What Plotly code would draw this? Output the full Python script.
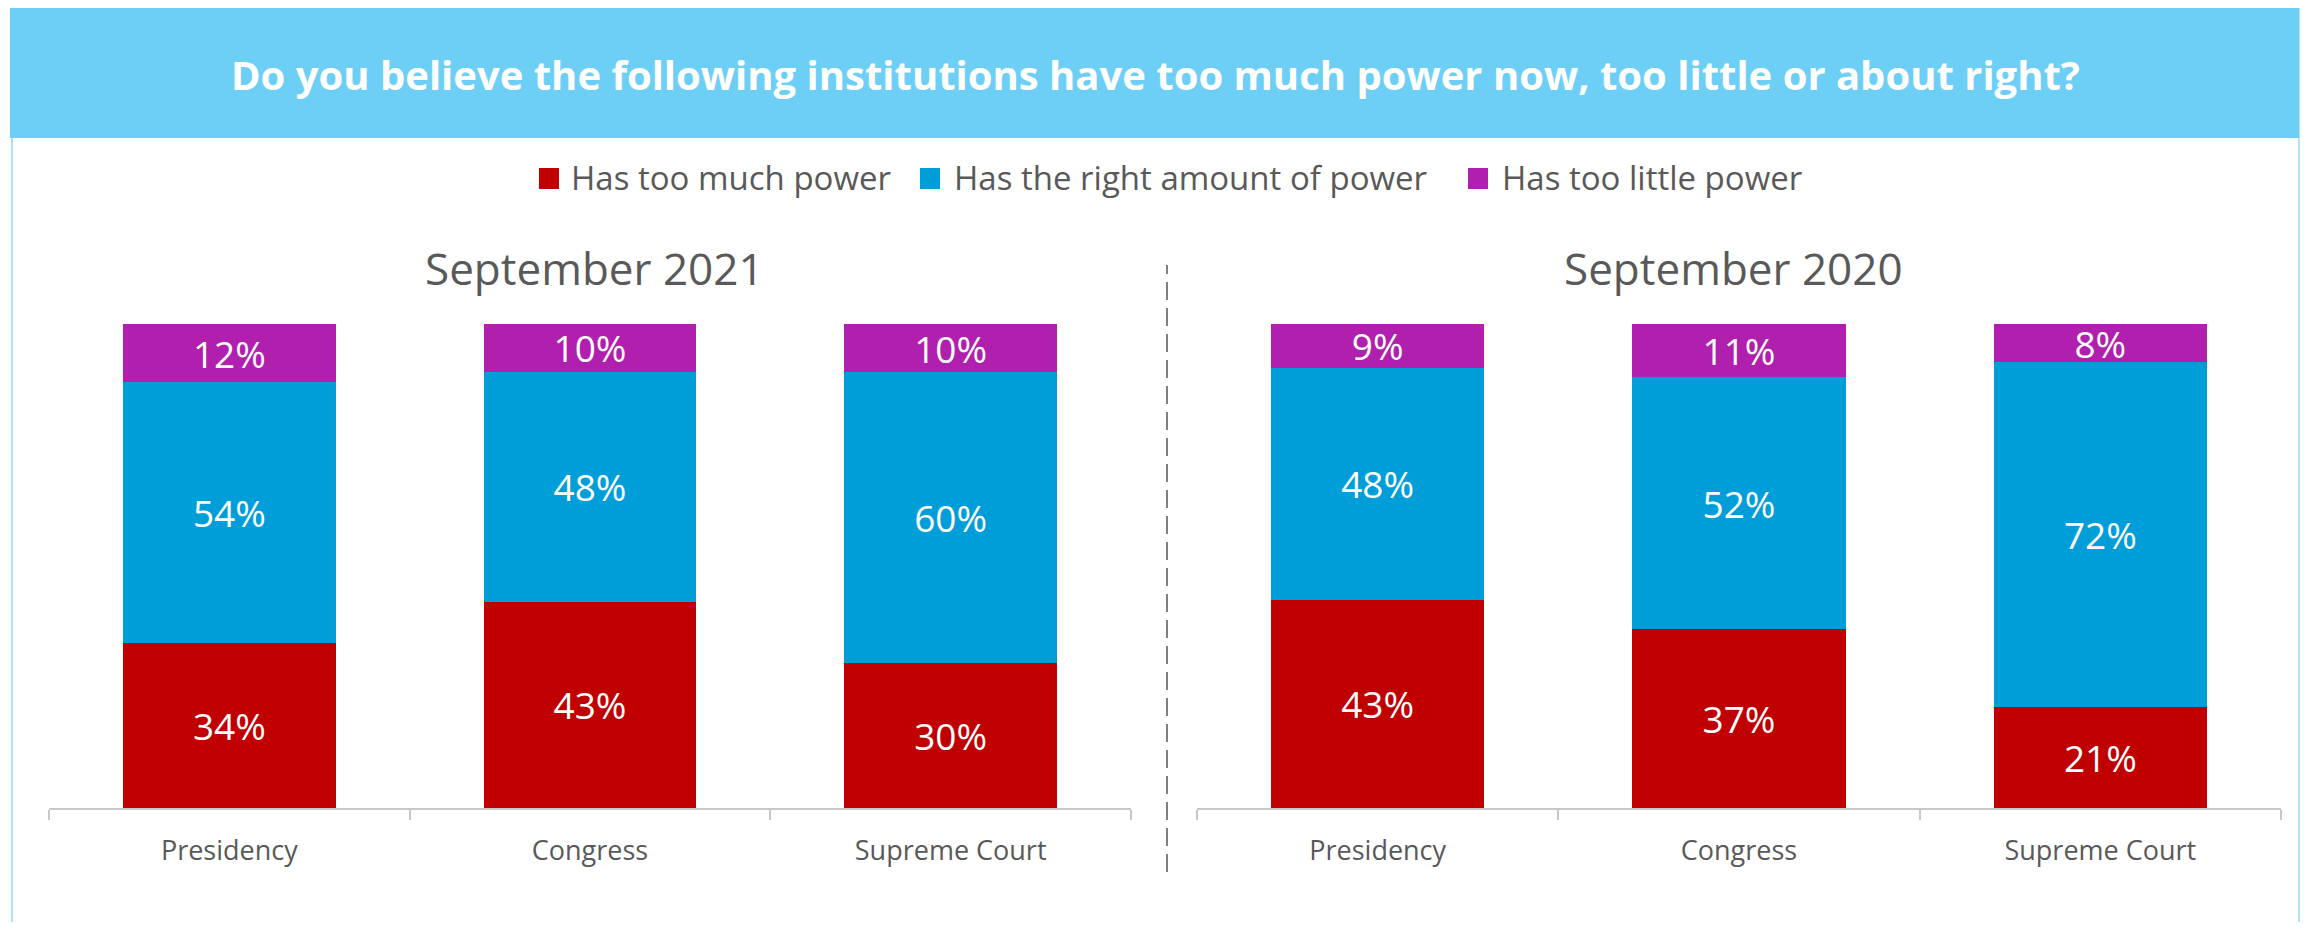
import plotly.graph_objects as go

W, H = 2308, 930
OFF = 8  # body margin of the page
FW, FH = W - 2 * OFF, H - 2 * OFF

title = "Do you believe the following institutions have too much power now, too little or about right?"
categories = ["Presidency", "Congress", "Supreme Court"]
series_names = ["Has too much power", "Has the right amount of power", "Has too little power"]
colors = ["#C00000", "#009ED9", "#B01FAD"]

panel_titles = ["September 2021", "September 2020"]
too_much_2021 = [34, 43, 30]
right_2021 = [54, 48, 60]
too_little_2021 = [12, 10, 10]
too_much_2020 = [43, 37, 21]
right_2020 = [48, 52, 72]
too_little_2020 = [9, 11, 8]

panels = [
    [too_much_2021, right_2021, too_little_2021],
    [too_much_2020, right_2020, too_little_2020],
]

FONT = "Open Sans"
GRAY = "#595959"


def px(x):
    return (x - OFF) / FW


def py(y):
    return 1 - (y - OFF) / FH


fig = go.Figure()

for p, data in enumerate(panels):
    xa = "x" if p == 0 else "x2"
    ya = "y" if p == 0 else "y2"
    for s, vals in enumerate(data):
        fig.add_trace(go.Bar(
            x=categories, y=vals, name=series_names[s],
            marker=dict(color=colors[s], line=dict(width=0)),
            text=[f"{v}%" for v in vals], textposition="inside",
            insidetextanchor="middle", textangle=0, constraintext="none",
            textfont=dict(family=FONT, size=37, color="white"),
            xaxis=xa, yaxis=ya, showlegend=False, hoverinfo="skip",
        ))

ydom = [py(808), py(324)]
axis_common = dict(
    type="category", showline=True, linecolor="#C8C8C8", linewidth=1.5,
    ticks="outside", tickson="boundaries", ticklen=10, tickcolor="#C8C8C8",
    tickwidth=1.5, showgrid=False, zeroline=False, ticklabelstandoff=18,
    tickfont=dict(family=FONT, size=27, color=GRAY), fixedrange=True,
)
yaxis_common = dict(range=[0, 100], visible=False, showgrid=False, fixedrange=True)

fig.update_layout(
    width=FW, height=FH,
    margin=dict(l=0, r=0, t=0, b=0),
    paper_bgcolor="white", plot_bgcolor="rgba(0,0,0,0)",
    barmode="stack", barnorm="percent", bargap=0.41,
    showlegend=False,
    xaxis=dict(domain=[px(49), px(1131)], anchor="y", **axis_common),
    yaxis=dict(domain=ydom, anchor="x", **yaxis_common),
    xaxis2=dict(domain=[px(1197), px(2281)], anchor="y2", **axis_common),
    yaxis2=dict(domain=ydom, anchor="x2", **yaxis_common),
)

shapes = [
    # outer border
    dict(type="rect", xref="paper", yref="paper", x0=px(12), x1=px(2299), y0=py(960), y1=py(4),
         line=dict(color="#AEE3F7", width=2), fillcolor="rgba(0,0,0,0)", layer="below"),
    # header band
    dict(type="rect", xref="paper", yref="paper", x0=px(10), x1=px(2299), y0=py(138), y1=py(4),
         line=dict(width=0), fillcolor="#6DCFF6", layer="below"),
    # divider
    dict(type="line", xref="paper", yref="paper", x0=px(1167), x1=px(1167), y0=py(872), y1=py(265),
         line=dict(color="#7F7F7F", width=2, dash="18px,8px")),
]

# legend squares
legend_sq_x = [539, 920, 1468]
legend_txt_x = [569, 952, 1500]
for i in range(3):
    shapes.append(dict(type="rect", xref="paper", yref="paper",
                       x0=px(legend_sq_x[i]), x1=px(legend_sq_x[i] + 20),
                       y0=py(189), y1=py(168), fillcolor=colors[i], line=dict(width=0)))

annotations = [
    dict(text=f"<b>{title}</b>", x=px(1155), y=py(74), xref="paper", yref="paper",
         showarrow=False, xanchor="center", yanchor="middle",
         font=dict(family=FONT, size=40, color="white")),
    dict(text=panel_titles[0], x=px(594), y=py(268), xref="paper", yref="paper",
         showarrow=False, xanchor="center", yanchor="middle",
         font=dict(family=FONT, size=44, color=GRAY)),
    dict(text=panel_titles[1], x=px(1733), y=py(268), xref="paper", yref="paper",
         showarrow=False, xanchor="center", yanchor="middle",
         font=dict(family=FONT, size=44, color=GRAY)),
]
for i in range(3):
    annotations.append(dict(text=series_names[i], x=px(legend_txt_x[i]), y=py(178),
                            xref="paper", yref="paper", showarrow=False,
                            xanchor="left", yanchor="middle",
                            font=dict(family=FONT, size=33, color=GRAY)))

fig.update_layout(shapes=shapes, annotations=annotations)

fig.write_html("out.html", config={"displayModeBar": False})
